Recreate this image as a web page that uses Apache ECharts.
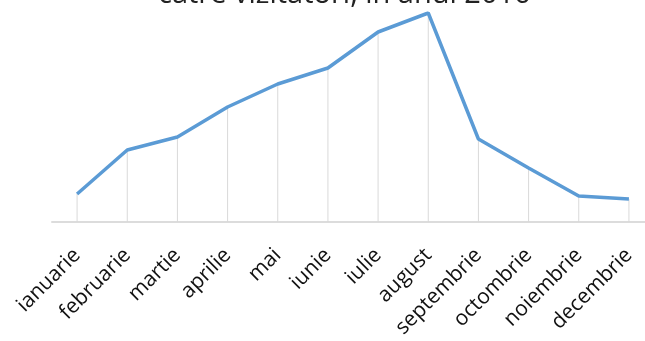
<!DOCTYPE html>
<html>
<head>
<meta charset="utf-8">
<script src="https://cdn.jsdelivr.net/npm/echarts@6/dist/echarts.min.js"></script>
<style>html,body{margin:0;padding:0;background:#fff;}#c{width:645px;height:341px;}</style>
</head>
<body>
<div id="c"></div>
<script>
const titleText = 'către vizitatori, în anul 2016';
const months = ['ianuarie','februarie','martie','aprilie','mai','iunie','iulie','august','septembrie','octombrie','noiembrie','decembrie'];
const visits = [28, 72, 85, 115, 138, 154, 190, 209, 83, 54, 26, 23];

const chart = echarts.init(document.getElementById('c'), null, {renderer: 'canvas'});
chart.setOption({
  animation: false,
  backgroundColor: '#ffffff',
  graphic: [{
    type: 'text',
    x: 158,
    y: 9,
    style: {
      text: titleText,
      fontFamily: 'Open Sans',
      fontSize: 29,
      fill: '#222',
      verticalAlign: 'bottom',
      align: 'left'
    }
  }],
  grid: {left: 52, width: 602, top: 13, bottom: 119, containLabel: false, outerBoundsMode: 'none'},
  xAxis: {
    type: 'category',
    data: months,
    boundaryGap: true,
    axisLine: {show: true, lineStyle: {color: '#dcdcdc', width: 2}},
    axisTick: {show: false},
    splitLine: {show: false},
    axisLabel: {interval: 0, rotate: 45, margin: 30, fontFamily: 'Open Sans', fontSize: 21, color: '#111'}
  },
  yAxis: {type: 'value', min: 0, max: 209, show: false, splitLine: {show: false}},
  series: [
    {type: 'bar', data: visits, barWidth: 1, itemStyle: {color: '#d9d9d9'}, z: 1, silent: true},
    {type: 'line', data: visits, showSymbol: false, symbol: 'none', lineStyle: {color: '#5b9bd5', width: 3.5}, z: 3}
  ]
});
</script>
</body>
</html>
